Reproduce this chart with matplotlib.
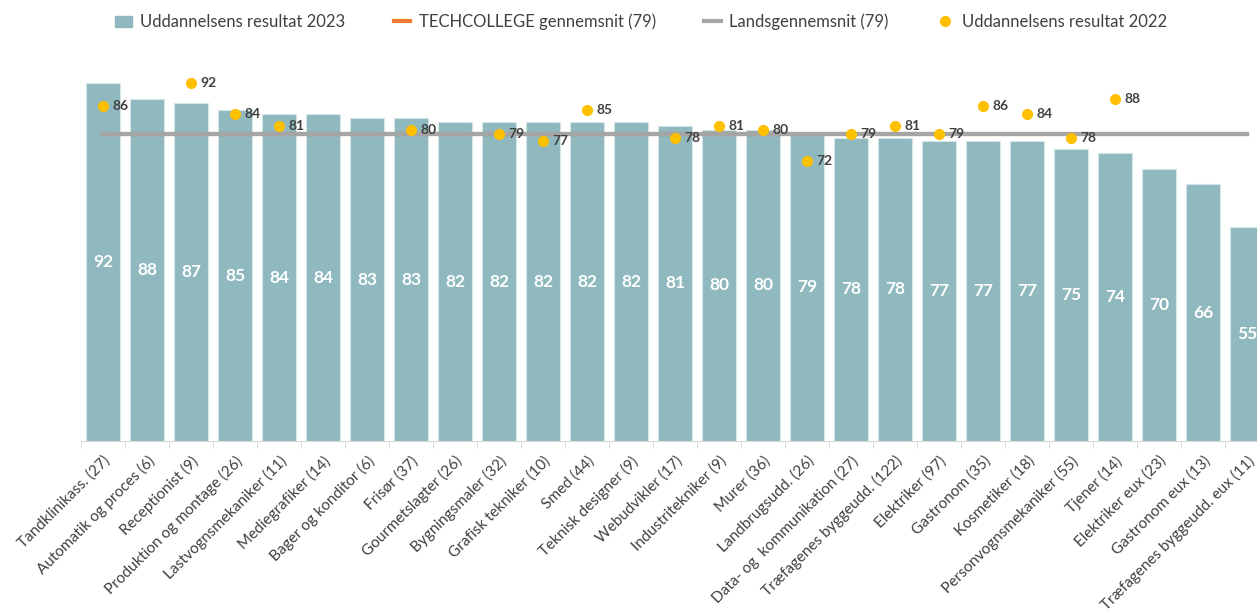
import matplotlib.pyplot as plt
import numpy as np
from matplotlib.lines import Line2D
from matplotlib.patches import Patch

plt.rcParams["font.family"] = ["Lato", "DejaVu Sans"]

categories = [
    "Tandklinikass. (27)", "Automatik og proces (6)", "Receptionist (9)",
    "Produktion og montage (26)", "Lastvognsmekaniker (11)", "Mediegrafiker (14)",
    "Bager og konditor (6)", "Frisør (37)", "Gourmetslagter (26)",
    "Bygningsmaler (32)", "Grafisk tekniker (10)", "Smed (44)",
    "Teknisk designer (9)", "Webudvikler (17)", "Industritekniker (9)",
    "Murer (36)", "Landbrugsudd. (26)", "Data- og  kommunikation (27)",
    "Træfagenes byggeudd. (122)", "Elektriker (97)", "Gastronom (35)",
    "Kosmetiker (18)", "Personvognsmekaniker (55)", "Tjener (14)",
    "Elektriker eux (23)", "Gastronom eux (13)", "Træfagenes byggeudd. eux (11)",
]
result_2023 = [92, 88, 87, 85, 84, 84, 83, 83, 82, 82, 82, 82, 82, 81, 80,
               80, 79, 78, 78, 77, 77, 77, 75, 74, 70, 66, 55]
result_2022 = [86, None, 92, 84, 81, None, None, 80, None, 79, 77, 85, None,
               78, 81, 80, 72, 79, 81, 79, 86, 84, 78, 88, None, None, None]
techcollege_avg = 79
national_avg = 79

BAR = "#8fb9bf"
ORANGE = "#ed7d31"
GREY = "#a5a5a5"
YELLOW = "#ffc000"

fig = plt.figure(figsize=(12.57, 6.12), dpi=100)
ax = fig.add_axes([81 / 1257, 1 - 441 / 612, 1188 / 1257, 389 / 612])

x = np.arange(len(categories))
ax.bar(x, result_2023, width=0.77, color=BAR, edgecolor="#d4e5e8", linewidth=0.8, zorder=2)
for xi, v in zip(x, result_2023):
    ax.text(xi, v / 2, f"{v}", ha="center", va="center", color="white",
            fontsize=12.5, fontweight="bold", zorder=5)

ax.plot([x[0], x[-1]], [techcollege_avg] * 2, color=ORANGE, lw=3, zorder=3)
ax.plot([x[0], x[-1]], [national_avg] * 2, color=GREY, lw=3, zorder=3)

for xi, v in zip(x, result_2022):
    if v is None:
        continue
    ax.plot(xi, v, "o", color=YELLOW, markersize=7, zorder=4)
    ax.annotate(f"{v}", (xi, v), xytext=(7, 0), textcoords="offset points",
                ha="left", va="center", fontsize=10, fontweight="bold",
                color="#404040", zorder=5)

ax.set_xlim(-0.5, len(categories) - 0.5)
ax.set_ylim(0, 100)
for s in ["top", "right", "left"]:
    ax.spines[s].set_visible(False)
ax.spines["bottom"].set_color("#d9d9d9")
ax.set_yticks([])
ax.set_xticks(x)
ax.set_xticklabels(categories, rotation=45, ha="right", rotation_mode="anchor",
                   fontsize=11, color="#404040")
ax.tick_params(axis="x", which="major", length=0, pad=9)
ax.set_xticks(np.arange(-0.5, len(categories), 1), minor=True)
ax.tick_params(axis="x", which="minor", length=5, color="#d9d9d9")

handles = [
    Patch(facecolor=BAR, edgecolor=BAR),
    Line2D([], [], color=ORANGE, lw=3),
    Line2D([], [], color=GREY, lw=3),
    Line2D([], [], marker="o", color=YELLOW, lw=0, markersize=7),
]
labels = ["Uddannelsens resultat 2023", "TECHCOLLEGE gennemsnit (79)",
          "Landsgennemsnit (79)", "Uddannelsens resultat 2022"]
fig.legend(handles, labels, loc="center", bbox_to_anchor=(0.51, 0.964), ncol=4,
           frameon=False, fontsize=12, handlelength=1.0, columnspacing=2.9,
           handletextpad=0.5, labelcolor="#404040")

fig.savefig("out.png", dpi=100)
